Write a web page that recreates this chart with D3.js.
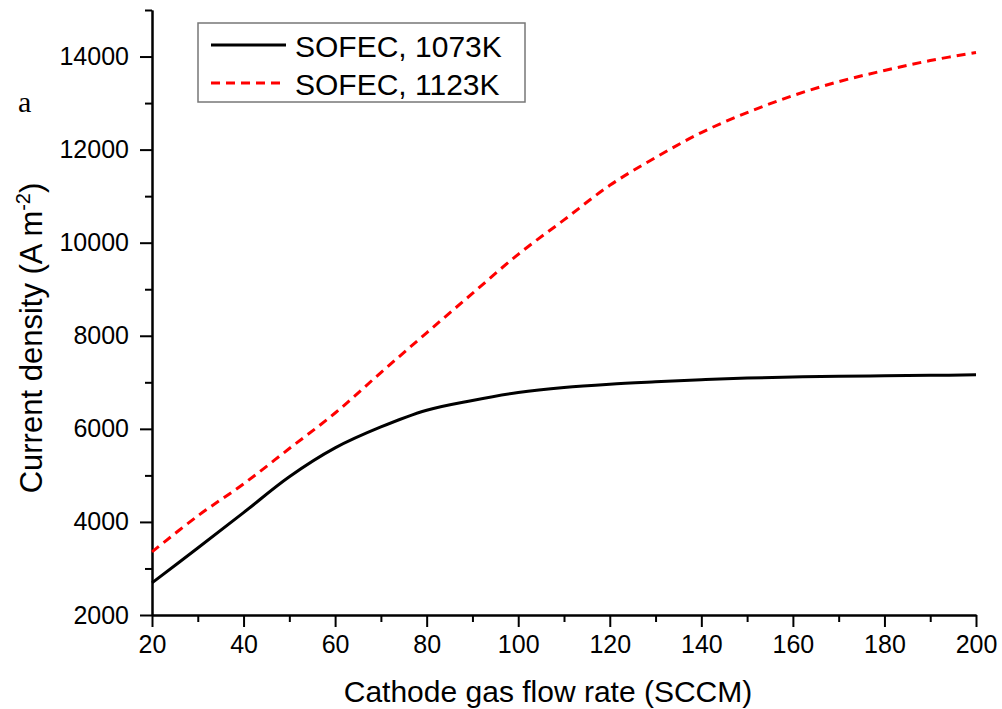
<!DOCTYPE html>
<html>
<head>
<meta charset="utf-8">
<script src="https://cdn.jsdelivr.net/npm/d3@7"></script>
<style>
  body { margin: 0; background: #fff; }
  svg { display: block; font-family: "Liberation Sans", Arial, sans-serif; }
  .axis path, .axis line { stroke: #000; stroke-width: 2; }
  .axis text { font-size: 25px; fill: #000; }
</style>
</head>
<body>
<div id="chart"></div>
<script>
// cathode gas flow rate (SCCM)
var flowRate = [20, 30, 40, 50, 60, 70, 80, 90, 100, 110, 120, 130, 140, 150, 160, 170, 180, 190, 200];
// current density (A m-2), SOFEC at 1073K
var density1073 = [2690, 3440, 4200, 4970, 5590, 6040, 6400, 6610, 6780, 6890, 6960, 7010, 7054, 7090, 7115, 7130, 7140, 7150, 7160];
// current density (A m-2), SOFEC at 1123K
var density1123 = [3355, 4130, 4817, 5577, 6340, 7210, 8064, 8910, 9750, 10490, 11232, 11830, 12366, 12796, 13160, 13460, 13700, 13914, 14086];

var seriesNames = ["SOFEC, 1073K", "SOFEC, 1123K"];
var xMajor = [20, 40, 60, 80, 100, 120, 140, 160, 180, 200];
var xMinor = [30, 50, 70, 90, 110, 130, 150, 170, 190];
var yMajor = [2000, 4000, 6000, 8000, 10000, 12000, 14000];
var yMinor = [3000, 5000, 7000, 9000, 11000, 13000, 15000];

var width = 1002, height = 709;
var margin = {top: 10, right: 26, bottom: 94, left: 152};

var svg = d3.select("#chart").append("svg")
    .attr("width", width)
    .attr("height", height);

var x = d3.scaleLinear().domain([20, 200]).range([margin.left, width - margin.right]);
var y = d3.scaleLinear().domain([2000, 15000]).range([height - margin.bottom, margin.top]);

// minor ticks first, then major axis with labels
svg.append("g").attr("class", "axis")
    .attr("transform", "translate(0," + (height - margin.bottom) + ")")
    .call(d3.axisBottom(x).tickValues(xMinor).tickSize(7).tickFormat("").tickSizeOuter(0));
svg.append("g").attr("class", "axis")
    .attr("transform", "translate(0," + (height - margin.bottom) + ")")
    .call(d3.axisBottom(x).tickValues(xMajor).tickSize(12).tickPadding(8).tickSizeOuter(0).tickFormat(d3.format("d")));

svg.append("g").attr("class", "axis")
    .attr("transform", "translate(" + margin.left + ",0)")
    .call(d3.axisLeft(y).tickValues(yMinor).tickSize(7).tickFormat("").tickSizeOuter(0));
svg.append("g").attr("class", "axis")
    .attr("transform", "translate(" + margin.left + ",0)")
    .call(d3.axisLeft(y).tickValues(yMajor).tickSize(12).tickPadding(11).tickSizeOuter(0).tickFormat(d3.format("d")));

// axis titles
svg.append("text")
    .attr("x", 548)
    .attr("y", 702)
    .attr("text-anchor", "middle")
    .style("font-size", "30px")
    .text("Cathode gas flow rate (SCCM)");

var yTitle = svg.append("text")
    .attr("transform", "translate(42,338) rotate(-90)")
    .attr("text-anchor", "middle")
    .style("font-size", "31px");
yTitle.append("tspan").text("Current density (A m");
yTitle.append("tspan").attr("dy", -12).style("font-size", "20px").text("-2");
yTitle.append("tspan").attr("dy", 12).text(")");

// panel label
svg.append("text")
    .attr("x", 18)
    .attr("y", 112)
    .style("font-family", "'Liberation Serif', 'Times New Roman', serif")
    .style("font-size", "30px")
    .text("a");

// curves
var line = d3.line()
    .x(function(d) { return x(d[0]); })
    .y(function(d) { return y(d[1]); })
    .curve(d3.curveCatmullRom.alpha(0.5));

svg.append("path")
    .datum(d3.zip(flowRate, density1073))
    .attr("d", line)
    .attr("fill", "none")
    .attr("stroke", "#000")
    .attr("stroke-width", 3);

svg.append("path")
    .datum(d3.zip(flowRate, density1123))
    .attr("d", line)
    .attr("fill", "none")
    .attr("stroke", "#ff0000")
    .attr("stroke-width", 3)
    .attr("stroke-dasharray", "9,6");

// legend
var legend = svg.append("g");
legend.append("rect")
    .attr("x", 198).attr("y", 23)
    .attr("width", 327).attr("height", 79)
    .attr("fill", "#fff")
    .attr("stroke", "#777")
    .attr("stroke-width", 1.5);

var legendStyles = [
    {stroke: "#000", dash: null},
    {stroke: "#ff0000", dash: "9,6"}
];
seriesNames.forEach(function(name, i) {
    var yy = 45 + i * 38;
    legend.append("line")
        .attr("x1", 211).attr("x2", 286)
        .attr("y1", yy).attr("y2", yy)
        .attr("stroke", legendStyles[i].stroke)
        .attr("stroke-width", 3)
        .attr("stroke-dasharray", legendStyles[i].dash);
    legend.append("text")
        .attr("x", 295)
        .attr("y", yy + 12)
        .style("font-size", "30px")
        .text(name);
});
</script>
</body>
</html>
